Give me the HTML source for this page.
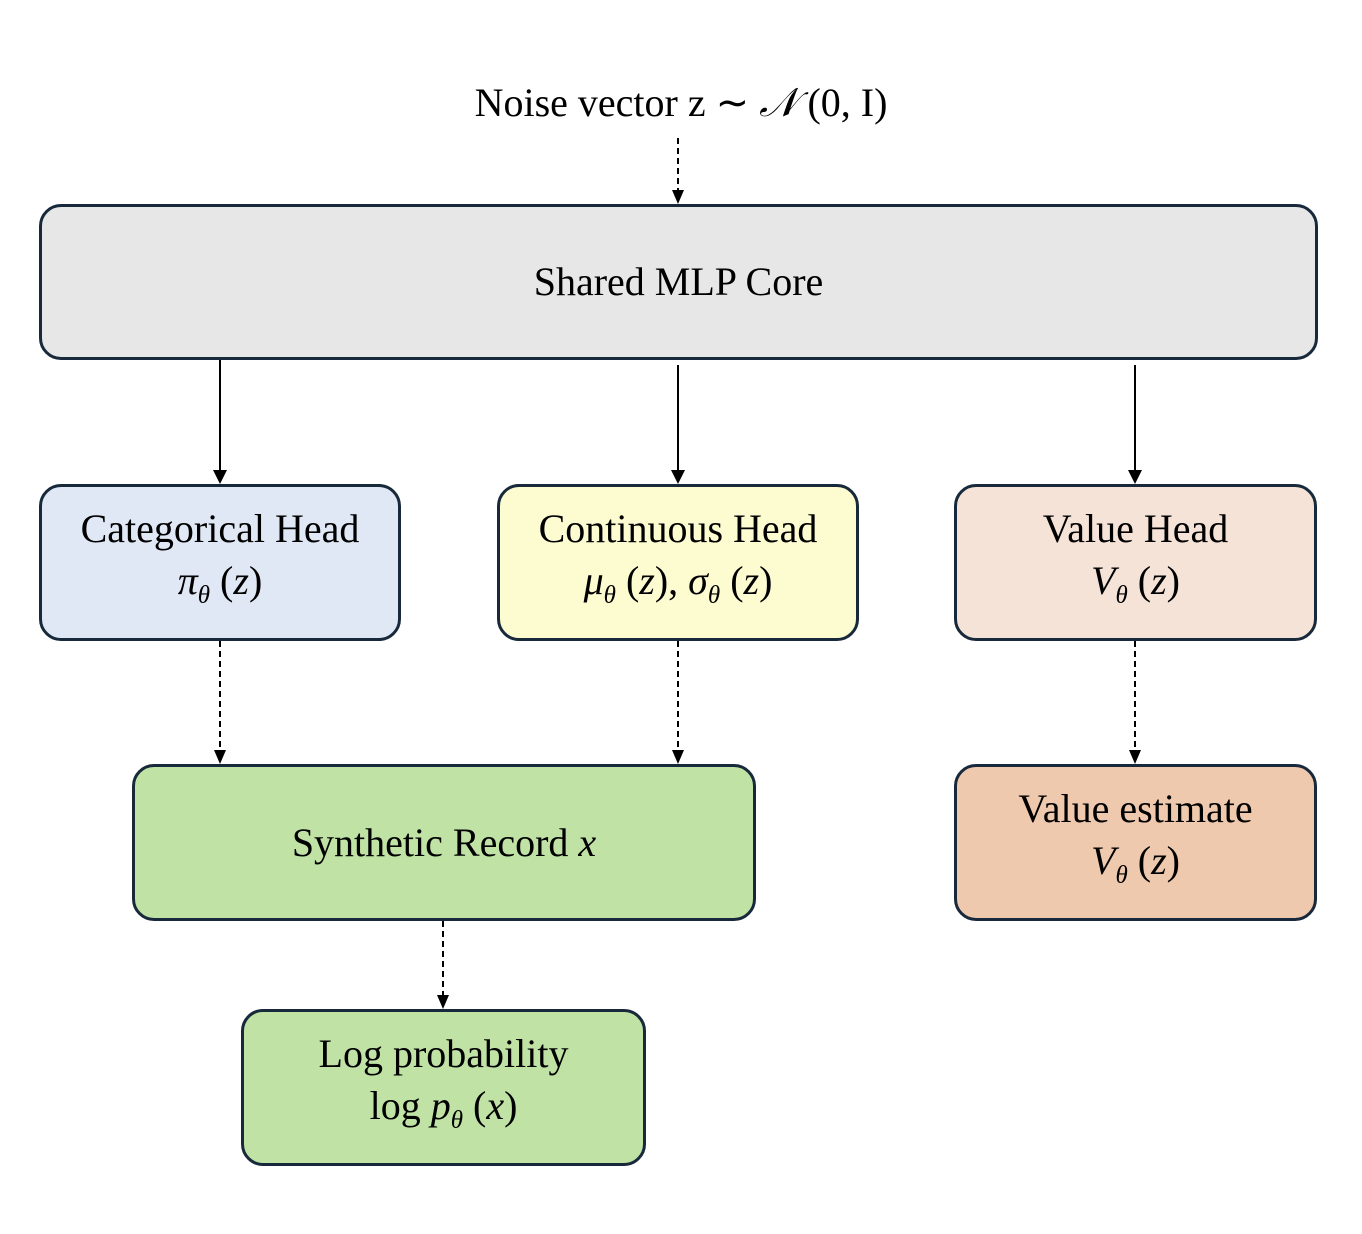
<!DOCTYPE html>
<html><head><meta charset="utf-8"><style>
body{margin:0;background:#fff;width:1362px;height:1234px;position:relative;font-family:"Liberation Serif",serif;color:#000}
.b{position:absolute;box-sizing:border-box;border:3px solid #17293a;border-radius:22px;display:flex;flex-direction:column;align-items:center;justify-content:center;font-size:40px;line-height:52px;text-align:center}
i{font-style:italic}
sub{font-size:25px}
svg{position:absolute;left:0;top:0}
</style></head><body>
<svg width="1362" height="1234">
<g stroke="#000" stroke-width="2" fill="none">
<line x1="220" y1="360" x2="220" y2="472"/>
<line x1="678" y1="365" x2="678" y2="472"/>
<line x1="1135" y1="365" x2="1135" y2="472"/>
<g stroke-dasharray="6,4">
<line x1="678" y1="138" x2="678" y2="192"/>
<line x1="220" y1="641" x2="220" y2="752"/>
<line x1="678" y1="641" x2="678" y2="752"/>
<line x1="1135" y1="641" x2="1135" y2="752"/>
<line x1="443" y1="921" x2="443" y2="997"/>
</g></g>
<g fill="#000">
<path d="M213,470h14l-7,14z"/><path d="M671,470h14l-7,14z"/><path d="M1128,470h14l-7,14z"/>
<path d="M672,190h12l-6,14z"/><path d="M214,750h12l-6,14z"/><path d="M672,750h12l-6,14z"/><path d="M1129,750h12l-6,14z"/><path d="M437,995h12l-6,14z"/>
</g>
</svg>
<div style="position:absolute;left:0;width:1362px;top:78px;text-align:center;font-size:40px;line-height:50px">Noise vector z ∼ <i>𝒩</i> (0, I)</div>
<div class="b" style="left:39px;top:204px;width:1279px;height:156px;background:#e7e7e7">Shared MLP Core</div>
<div class="b" style="left:39px;top:484px;width:362px;height:157px;background:#dfe8f4"><div>Categorical Head</div><div><i>π<sub>θ</sub></i> (<i>z</i>)</div></div>
<div class="b" style="left:497px;top:484px;width:362px;height:157px;background:#fdfbd0"><div>Continuous Head</div><div><i>μ<sub>θ</sub></i> (<i>z</i>), <i>σ<sub>θ</sub></i> (<i>z</i>)</div></div>
<div class="b" style="left:954px;top:484px;width:363px;height:157px;background:#f5e3d8"><div>Value Head</div><div><i>V<sub>θ</sub></i> (<i>z</i>)</div></div>
<div class="b" style="left:132px;top:764px;width:624px;height:157px;background:#c0e3a5"><div>Synthetic Record <i>x</i></div></div>
<div class="b" style="left:954px;top:764px;width:363px;height:157px;background:#efc9ad"><div>Value estimate</div><div><i>V<sub>θ</sub></i> (<i>z</i>)</div></div>
<div class="b" style="left:241px;top:1009px;width:405px;height:157px;background:#c0e3a5"><div>Log probability</div><div>log <i>p<sub>θ</sub></i> (<i>x</i>)</div></div>
</body></html>
